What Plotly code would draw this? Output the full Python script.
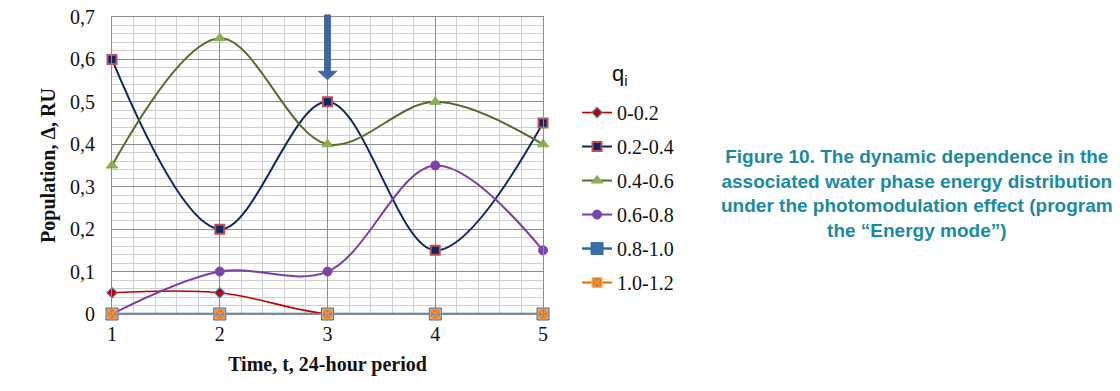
import plotly.graph_objects as go

days = [1, 2, 3, 4, 5]
q_00_02 = [0.05, 0.05, 0, 0, 0]
q_02_04 = [0.6, 0.2, 0.5, 0.15, 0.45]
q_04_06 = [0.35, 0.65, 0.4, 0.5, 0.4]
q_06_08 = [0, 0.1, 0.1, 0.35, 0.15]
q_08_10 = [0, 0, 0, 0, 0]
q_10_12 = [0, 0, 0, 0, 0]

y_ticks = [0, 0.1, 0.2, 0.3, 0.4, 0.5, 0.6, 0.7]
y_ticktext = ["0", "0,1", "0,2", "0,3", "0,4", "0,5", "0,6", "0,7"]
x_ticks = [1, 2, 3, 4, 5]
y_max = 0.7

# arrow marking day 3 (values in data units)
arrow_day = 3
arrow_tip = 0.552
arrow_neck = 0.572
arrow_top = 0.705
shaft_half = 0.027
head_half = 0.085

serif = "Liberation Serif, Times New Roman, serif"
sans = "Liberation Sans, Arial, sans-serif"

fig = go.Figure()

def add(name, y, line_color, lw, symbol, msize, mfill, mline, mlw, group):
    fig.add_trace(go.Scatter(
        x=days, y=y, name=name, mode="lines+markers",
        line=dict(color=line_color, width=lw, shape="spline", smoothing=1.0),
        marker=dict(symbol=symbol, size=msize, color=mfill,
                    line=dict(color=mline, width=mlw)),
        legendgroup=group, cliponaxis=False,
    ))

add("0-0.2", q_00_02, "#C00000", 1.6, "diamond", 8, "#C00000", "#4F81BD", 1.2, "a")
add("0.2-0.4", q_02_04, "#0F2565", 2, "square", 9, "#0F2565", "#C0504D", 2, "b")
add("0.4-0.6", q_04_06, "#58692E", 2, "triangle-up", 10, "#8FAE4F", "#8FAE4F", 1, "c")
add("0.6-0.8", q_06_08, "#7A3DAA", 2, "circle", 9, "#7A44AA", "#7A44AA", 1, "d")
add("0.8-1.0", q_08_10, "#1670C0", 2.5, "square", 12, "#3A6EA5", "#3A6EA5", 1, "e")
add("1.0-1.2", q_10_12, "#E36C09", 2, "square-x", 10, "#E97A1E", "#F2B27A", 1, "f")

# big arrow (x in data units, y converted to paper fraction so it may pass the frame)
def py(v):
    return v / y_max

arrow_path = (
    f"M {arrow_day - shaft_half},{py(arrow_top)} L {arrow_day + shaft_half},{py(arrow_top)} "
    f"L {arrow_day + shaft_half},{py(arrow_neck)} L {arrow_day + head_half},{py(arrow_neck)} "
    f"L {arrow_day},{py(arrow_tip)} L {arrow_day - head_half},{py(arrow_neck)} "
    f"L {arrow_day - shaft_half},{py(arrow_neck)} Z"
)
fig.add_shape(type="path", path=arrow_path, xref="x", yref="paper",
              fillcolor="#41679A", line=dict(color="#41679A", width=1), layer="above")
fig.add_shape(type="line", xref="x", yref="paper",
              x0=arrow_day, x1=arrow_day, y0=py(arrow_top - 0.01), y1=py(arrow_neck + 0.005),
              line=dict(color="#C0392B", width=1), layer="above")

# legend title
fig.add_annotation(
    xref="paper", yref="paper", x=1.179, y=0.805, xanchor="center", yanchor="middle",
    showarrow=False, text="q<sub>i</sub>",
    font=dict(family=sans, size=22, color="#111"),
)

fig.add_annotation(
    xref="paper", yref="paper", x=1.868, y=0.406, xanchor="center", yanchor="middle",
    showarrow=False, align="center",
    text="Figure 10. The dynamic dependence in the<br>associated water phase energy distribution<br>"
         "under the photomodulation effect (program<br>the “Energy mode”)",
    font=dict(family=sans, size=19, color="#1A8AA3", weight="bold"),
)

fig.update_layout(
    width=1120, height=391,
    margin=dict(l=112, r=577, t=17, b=77, autoexpand=False),
    paper_bgcolor="white", plot_bgcolor="white",
    separators=",.",
    showlegend=True,
    legend=dict(
        x=1.079, y=0.744, xanchor="left", yanchor="top",
        traceorder="grouped", tracegroupgap=5,
        font=dict(family=serif, size=20, color="#111"),
        bgcolor="rgba(0,0,0,0)",
    ),
    xaxis=dict(
        range=[1, 5], tickvals=x_ticks, showgrid=True, gridcolor="#8C8C8C", gridwidth=1,
        minor=dict(dtick=0.2, showgrid=True, gridcolor="#CFCFCF", gridwidth=1),
        showline=True, linecolor="#8C8C8C", mirror=True, zeroline=False, automargin=False,
        ticks="", ticklabelstandoff=2, ticklabeloverflow="allow",
        tickfont=dict(family=serif, size=20, color="#111"),
        title=dict(text="<b>Time, t, 24-hour period</b>", standoff=12,
                   font=dict(family=serif, size=20, color="#111")),
    ),
    yaxis=dict(
        range=[0, y_max], tickvals=y_ticks, ticktext=y_ticktext,
        showgrid=True, gridcolor="#8C8C8C", gridwidth=1,
        minor=dict(dtick=0.02, showgrid=True, gridcolor="#CFCFCF", gridwidth=1),
        showline=True, linecolor="#8C8C8C", mirror=True, zeroline=False, automargin=False,
        ticks="", ticklabelstandoff=12, ticklabeloverflow="allow",
        tickfont=dict(family=serif, size=20, color="#111"),
        title=dict(text="<b>Population, Δ, RU</b>", standoff=9,
                   font=dict(family=serif, size=20, color="#111")),
    ),
)

fig.write_html("out.html", config={"displayModeBar": False},
               post_script="document.body.style.margin='0px';document.body.style.overflow='hidden';")
